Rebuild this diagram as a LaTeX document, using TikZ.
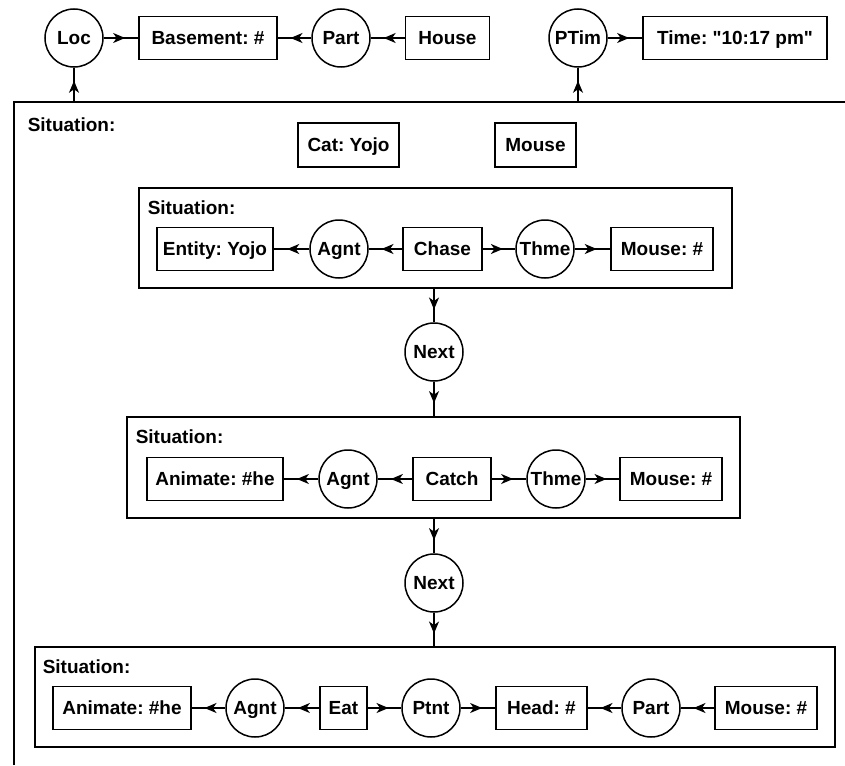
\documentclass[tikz,border=0pt]{standalone}
\usepackage{fontspec}
\setmainfont{Liberation Sans}[Ligatures=TeXOff]
\usetikzlibrary{arrows.meta,decorations.markings}
\frenchspacing

\begin{document}
\begin{tikzpicture}[
  x=1pt, y=-1pt,
  font=\bfseries\fontsize{19}{22}\selectfont,
  line width=1.5pt,
  concept/.style={draw, minimum height=43pt, inner sep=0pt, text height=13.5pt, text depth=0pt},
  relation/.style={draw, circle, minimum size=58pt, inner sep=0pt, text height=13.5pt, text depth=0pt},
  frame/.style={draw, inner sep=0pt},
  title/.style={anchor=west, inner sep=0pt},
  link/.style={postaction={decorate}, decoration={markings,
    mark=at position 0.62 with {\arrow{Stealth[length=12pt,width=10pt,inset=3.5pt]}}}}
]
\useasboundingbox (0,0) rectangle (845,765);

% outer situation, open to the right and below
\draw (14,765) -- (14,102) -- (845,102);
\coordinate (outloc) at (74,102);
\coordinate (outptim) at (578,102);
\node[title] (sit0t) at (27,125) {Situation:};

\node[relation] (loc) at (74,38) {Loc};
\node[concept, minimum width=138pt] (basement) at (208,38) {Basement: \#};
\node[relation] (part1) at (341,38) {Part};
\node[concept, minimum width=84pt] (house) at (447.5,38) {House};
\node[relation] (ptim) at (578,38) {PTim};
\node[concept, minimum width=184pt] (time) at (735,38) {Time: "10:17 pm"};

\node[concept, minimum width=101pt, minimum height=44pt] (cat) at (348.5,145) {Cat: Yojo};
\node[concept, minimum width=81pt, minimum height=44pt] (mouse0) at (535.5,145) {Mouse};

\node[frame, minimum width=593pt, minimum height=100pt] (sit1) at (435.5,238) {};
\node[title] (sit1t) at (147,208) {Situation:};
\node[concept, minimum width=116pt] (entity) at (215,249) {Entity: Yojo};
\node[relation] (agnt1) at (339,249) {Agnt};
\node[concept, minimum width=79pt] (chase) at (442.5,249) {Chase};
\node[relation] (thme1) at (545,249) {Thme};
\node[concept, minimum width=102pt] (mouse1) at (662,249) {Mouse: \#};

\node[relation] (next1) at (434,352) {Next};

\node[frame, minimum width=613pt, minimum height=101pt] (sit2) at (433.5,467.5) {};
\node[title] (sit2t) at (135,437) {Situation:};
\node[concept, minimum width=136pt] (animate2) at (215,479) {Animate: \#he};
\node[relation] (agnt2) at (348,479) {Agnt};
\node[concept, minimum width=78pt] (catch) at (452,479) {Catch};
\node[relation] (thme2) at (556,479) {Thme};
\node[concept, minimum width=102pt] (mouse2) at (671,479) {Mouse: \#};

\node[relation] (next2) at (434,583) {Next};

\node[frame, minimum width=800pt, minimum height=100pt] (sit3) at (435,697) {};
\node[title] (sit3t) at (42,667) {Situation:};
\node[concept, minimum width=138pt] (animate3) at (122,708) {Animate: \#he};
\node[relation] (agnt3) at (255,708) {Agnt};
\node[concept, minimum width=47pt] (eat) at (343.5,708) {Eat};
\node[relation] (ptnt) at (431,708) {Ptnt};
\node[concept, minimum width=91pt] (head) at (541.5,708) {Head: \#};
\node[relation] (part2) at (651,708) {Part};
\node[concept, minimum width=102pt] (mouse3) at (766,708) {Mouse: \#};

\draw[link] (outloc) -- (loc);
\draw[link] (loc) -- (basement);
\draw[link] (part1) -- (basement);
\draw[link] (house) -- (part1);
\draw[link] (outptim) -- (ptim);
\draw[link] (ptim) -- (time);

\draw[link] (chase) -- (agnt1);
\draw[link] (agnt1) -- (entity);
\draw[link] (chase) -- (thme1);
\draw[link] (thme1) -- (mouse1);

\draw[link] (sit1.south -| next1) -- (next1);
\draw[link] (next1) -- (sit2.north -| next1);

\draw[link] (catch) -- (agnt2);
\draw[link] (agnt2) -- (animate2);
\draw[link] (catch) -- (thme2);
\draw[link] (thme2) -- (mouse2);

\draw[link] (sit2.south -| next2) -- (next2);
\draw[link] (next2) -- (sit3.north -| next2);

\draw[link] (eat) -- (agnt3);
\draw[link] (agnt3) -- (animate3);
\draw[link] (eat) -- (ptnt);
\draw[link] (ptnt) -- (head);
\draw[link] (mouse3) -- (part2);
\draw[link] (part2) -- (head);
\end{tikzpicture}
\end{document}
